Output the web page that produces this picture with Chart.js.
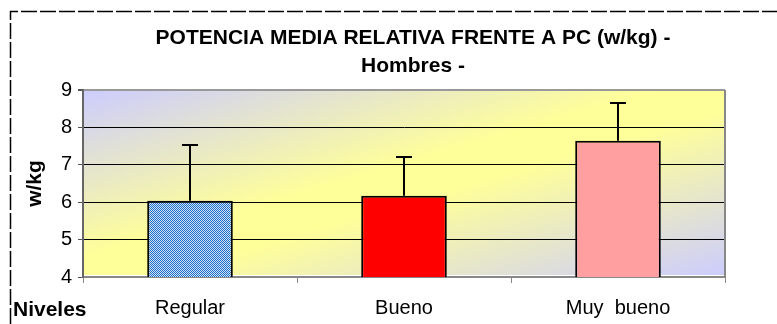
<!DOCTYPE html>
<html>
<head>
<meta charset="utf-8">
<script src="https://cdn.jsdelivr.net/npm/chart.js@4/dist/chart.umd.min.js"></script>
<style>
  html, body { margin: 0; padding: 0; background: #fff; overflow: hidden; }
  #wrap { position: absolute; left: 0; top: 0; width: 826px; height: 324px; }
</style>
</head>
<body>
<div id="wrap"><canvas id="chart" width="826" height="324"></canvas></div>
<script>
// levels and mean relative power (w/kg) with standard deviation
const niveles = ['Regular', 'Bueno', 'Muy  bueno'];
const potenciaMedia = [6.04, 6.17, 7.64];
const desviacion = [1.49, 1.04, 1.01];
const yTicks = [4, 5, 6, 7, 8, 9];

const FONT = '"Liberation Sans", Arial, sans-serif';

// fine blue check used for the first bar
function checkPattern(ctx) {
  const c = document.createElement('canvas');
  c.width = 2; c.height = 2;
  const p = c.getContext('2d');
  p.fillStyle = '#d2e4f8';
  p.fillRect(0, 0, 2, 2);
  p.fillStyle = '#1a6cc8';
  p.fillRect(0, 0, 1, 1);
  p.fillRect(1, 1, 1, 1);
  return ctx.createPattern(c, 'repeat');
}

const ctx = document.getElementById('chart').getContext('2d');
const barFills = [checkPattern(ctx), '#ff0000', '#ff9f9f'];

// plot area gradient + outer frame
const backdrop = {
  id: 'backdrop',
  beforeDraw(chart) {
    const { ctx, chartArea: a } = chart;
    const w = a.right - a.left, h = a.bottom - a.top;
    ctx.save();
    ctx.translate(a.left, a.top);
    ctx.scale(w, h);
    const g = ctx.createLinearGradient(0, 0, 1, 1);
    g.addColorStop(0, '#ccccff');
    g.addColorStop(0.45, '#ffff99');
    g.addColorStop(0.55, '#ffff99');
    g.addColorStop(1, '#ccccff');
    ctx.fillStyle = g;
    ctx.fillRect(0, 0, 1, (h - 2) / h);
    ctx.restore();

    ctx.save();
    ctx.strokeStyle = '#000';
    ctx.lineWidth = 1.5;
    ctx.setLineDash([16, 3]);
    ctx.beginPath();
    ctx.moveTo(10.5, chart.height);
    ctx.lineTo(10.5, 11.5);
    ctx.lineTo(chart.width, 11.5);
    ctx.stroke();
    ctx.restore();
  },
  afterDraw(chart) {
    const { ctx, chartArea: a } = chart;
    ctx.save();
    // right edge of the plot area
    ctx.strokeStyle = '#888';
    ctx.lineWidth = 2;
    ctx.beginPath();
    ctx.moveTo(a.right, a.top);
    ctx.lineTo(a.right, a.bottom);
    ctx.stroke();
    // level caption on the category row
    ctx.fillStyle = '#000';
    ctx.font = 'bold 21px ' + FONT;
    ctx.textAlign = 'left';
    ctx.textBaseline = 'alphabetic';
    ctx.fillText('Niveles', 13, 316);
    ctx.restore();
  }
};

// standard deviation whiskers above each bar
const errorBars = {
  id: 'errorBars',
  afterDatasetsDraw(chart) {
    const { ctx } = chart;
    const meta = chart.getDatasetMeta(0);
    const y = chart.scales.y;
    ctx.save();
    ctx.strokeStyle = '#000';
    ctx.lineWidth = 2;
    meta.data.forEach((bar, i) => {
      const top = y.getPixelForValue(potenciaMedia[i] + desviacion[i]);
      const base = y.getPixelForValue(potenciaMedia[i]);
      ctx.beginPath();
      ctx.moveTo(bar.x, base);
      ctx.lineTo(bar.x, top);
      ctx.moveTo(bar.x - 8, top);
      ctx.lineTo(bar.x + 8, top);
      ctx.stroke();
    });
    ctx.restore();
  }
};

new Chart(ctx, {
  type: 'bar',
  data: {
    labels: niveles,
    datasets: [{
      data: potenciaMedia,
      backgroundColor: barFills,
      borderColor: '#000',
      borderWidth: 2,
      barPercentage: 0.4,
      categoryPercentage: 1
    }]
  },
  options: {
    responsive: false,
    animation: false,
    layout: { padding: 0 },
    plugins: {
      legend: { display: false },
      tooltip: { enabled: false },
      title: {
        display: true,
        text: ['POTENCIA MEDIA RELATIVA FRENTE A PC (w/kg) -', 'Hombres -'],
        color: '#000',
        font: { family: FONT, size: 21, weight: 'bold', lineHeight: 1.333 },
        padding: { top: 24, bottom: 10 }
      }
    },
    scales: {
      x: {
        offset: true,
        grid: {
          offset: true,
          drawOnChartArea: false,
          color: '#888',
          tickLength: 6
        },
        border: { color: '#888', width: 2 },
        ticks: {
          color: '#000',
          font: { family: FONT, size: 20 },
          padding: 13
        },
        afterFit(s) { s.height = 47; }
      },
      y: {
        min: 4,
        max: 9,
        afterBuildTicks(s) { s.ticks = yTicks.map(v => ({ value: v })); },
        grid: {
          color: c => (c.tick && (c.tick.value === 9 || c.tick.value === 4)) ? '#999' : '#000',
          lineWidth: c => (c.tick && c.tick.value === 9) ? 2 : 1,
          tickColor: '#555',
          tickLength: 5
        },
        border: { color: '#666', width: 2 },
        ticks: {
          color: '#000',
          font: { family: FONT, size: 20 },
          padding: 6
        },
        title: {
          display: true,
          text: 'w/kg',
          color: '#000',
          font: { family: FONT, size: 21, weight: 'bold' },
          padding: { top: 23, bottom: 0 }
        },
        afterFit(s) { s.width = 83; }
      },
      side: {
        position: 'right',
        display: true,
        grid: { display: false },
        border: { display: false },
        ticks: { display: false },
        afterFit(s) { s.width = 101; }
      }
    }
  },
  plugins: [backdrop, errorBars]
});
</script>
</body>
</html>
